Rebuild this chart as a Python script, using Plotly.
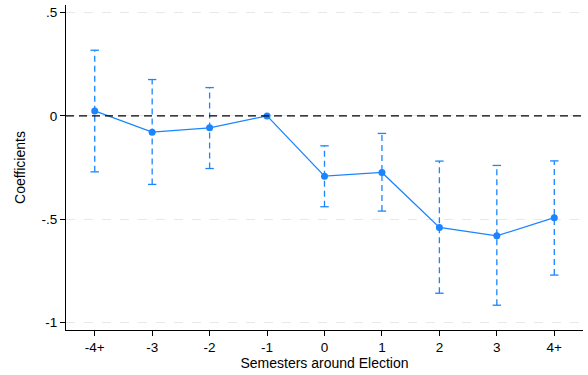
import plotly.graph_objects as go

categories = ["-4+", "-3", "-2", "-1", "0", "1", "2", "3", "4+"]
coef = [0.024, -0.079, -0.058, 0.0, -0.292, -0.274, -0.540, -0.581, -0.493]
ci_upper = [0.318, 0.176, 0.137, None, -0.145, -0.085, -0.219, -0.240, -0.218]
ci_lower = [-0.271, -0.332, -0.255, None, -0.440, -0.461, -0.859, -0.917, -0.771]
y_tickvals = [0.5, 0, -0.5, -1]
y_ticktext = [".5", "0", "-.5", "-1"]

blue = "#1a85ff"
xs = list(range(len(categories)))

fig = go.Figure()

# dashed CI lines
cx, cy = [], []
capx, capy = [], []
for i, (lo, hi) in enumerate(zip(ci_lower, ci_upper)):
    if lo is None or hi is None:
        continue
    cx += [i, i, None]
    cy += [lo, hi, None]
    capx += [i, i]
    capy += [lo, hi]

fig.add_trace(go.Scatter(x=cx, y=cy, mode="lines",
                         line=dict(color=blue, width=1.3, dash="6px,4px"),
                         hoverinfo="skip", showlegend=False))
fig.add_trace(go.Scatter(x=capx, y=capy, mode="markers",
                         marker=dict(symbol="line-ew", size=6,
                                     line=dict(color=blue, width=1.3)),
                         hoverinfo="skip", showlegend=False))

# zero reference line
fig.add_shape(type="line", xref="paper", x0=0, x1=1, yref="y", y0=0, y1=0,
              line=dict(color="black", width=1.3, dash="8px,5px"))

fig.add_trace(go.Scatter(x=xs, y=coef, mode="lines+markers",
                         line=dict(color=blue, width=1.3),
                         marker=dict(color=blue, size=7),
                         showlegend=False))

fig.update_layout(
    width=588, height=375,
    margin=dict(l=66, r=5, t=5, b=45),
    paper_bgcolor="white", plot_bgcolor="white",
    font=dict(family="Liberation Sans, Arial, sans-serif", size=13.5, color="black"),
)
fig.update_xaxes(
    range=[-0.5, 8.5], tickvals=xs, ticktext=categories,
    showline=True, linecolor="black", linewidth=1,
    ticks="outside", ticklen=5, tickcolor="black",
    showgrid=False, zeroline=False,
    title=dict(text="Semesters around Election", font=dict(size=14), standoff=3),
)
fig.update_yaxes(
    range=[-1.037, 0.537], tickvals=y_tickvals, ticktext=y_ticktext,
    showline=True, linecolor="black", linewidth=1,
    ticks="outside", ticklen=5, tickcolor="black",
    showgrid=True, gridcolor="#e8e8e8", griddash="dash", gridwidth=1,
    zeroline=False,
    title=dict(text="Coefficients", font=dict(size=14), standoff=12),
)

fig.write_html("out.html")
